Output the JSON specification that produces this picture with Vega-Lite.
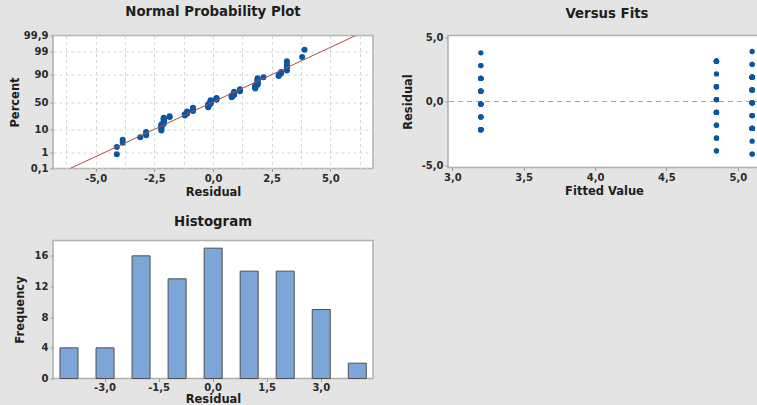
{
  "$schema": "https://vega.github.io/schema/vega-lite/v6.json",
  "background": "#e4e4e4",
  "padding": {"left": 8, "top": 3.5, "right": -2, "bottom": 2.5},
  "columns": 2,
  "bounds": "flush",
  "spacing": {"row": 72, "column": 75},
  "datasets": {
    "obs": [
      {"fit":5.1,"res":-4.1,"pct":0.75},{"fit":5.1,"res":-4.1,"pct":1.82},
      {"fit":4.85,"res":-3.85,"pct":2.89},{"fit":4.85,"res":-3.85,"pct":3.96},
      {"fit":5.1,"res":-3.1,"pct":5.03},
      {"fit":4.85,"res":-2.85,"pct":6.10},{"fit":4.85,"res":-2.85,"pct":7.17},{"fit":4.85,"res":-2.85,"pct":8.24},
      {"fit":3.2,"res":-2.2,"pct":9.31},{"fit":3.2,"res":-2.2,"pct":10.39},{"fit":3.2,"res":-2.2,"pct":11.46},{"fit":3.2,"res":-2.2,"pct":12.53},{"fit":3.2,"res":-2.2,"pct":13.60},{"fit":3.2,"res":-2.2,"pct":14.67},
      {"fit":5.1,"res":-2.1,"pct":15.74},{"fit":5.1,"res":-2.1,"pct":16.81},{"fit":5.1,"res":-2.1,"pct":17.88},{"fit":5.1,"res":-2.1,"pct":18.95},{"fit":5.1,"res":-2.1,"pct":20.02},{"fit":5.1,"res":-2.1,"pct":21.09},{"fit":5.1,"res":-2.1,"pct":22.16},{"fit":5.1,"res":-2.1,"pct":23.23},
      {"fit":4.85,"res":-1.85,"pct":24.30},{"fit":4.85,"res":-1.85,"pct":25.37},
      {"fit":3.2,"res":-1.2,"pct":26.45},{"fit":3.2,"res":-1.2,"pct":27.52},{"fit":3.2,"res":-1.2,"pct":28.59},
      {"fit":5.1,"res":-1.1,"pct":29.66},{"fit":5.1,"res":-1.1,"pct":30.73},{"fit":5.1,"res":-1.1,"pct":31.80},{"fit":5.1,"res":-1.1,"pct":32.87},
      {"fit":4.85,"res":-0.85,"pct":33.94},{"fit":4.85,"res":-0.85,"pct":35.01},{"fit":4.85,"res":-0.85,"pct":36.08},{"fit":4.85,"res":-0.85,"pct":37.15},{"fit":4.85,"res":-0.85,"pct":38.22},{"fit":4.85,"res":-0.85,"pct":39.29},
      {"fit":3.2,"res":-0.2,"pct":40.36},{"fit":3.2,"res":-0.2,"pct":41.43},{"fit":3.2,"res":-0.2,"pct":42.51},{"fit":3.2,"res":-0.2,"pct":43.58},{"fit":3.2,"res":-0.2,"pct":44.65},{"fit":3.2,"res":-0.2,"pct":45.72},
      {"fit":5.1,"res":-0.1,"pct":46.79},{"fit":5.1,"res":-0.1,"pct":47.86},{"fit":5.1,"res":-0.1,"pct":48.93},{"fit":5.1,"res":-0.1,"pct":50.00},{"fit":5.1,"res":-0.1,"pct":51.07},{"fit":5.1,"res":-0.1,"pct":52.14},{"fit":5.1,"res":-0.1,"pct":53.21},
      {"fit":4.85,"res":0.15,"pct":54.28},{"fit":4.85,"res":0.15,"pct":55.35},{"fit":4.85,"res":0.15,"pct":56.42},{"fit":4.85,"res":0.15,"pct":57.49},
      {"fit":3.2,"res":0.8,"pct":58.57},{"fit":3.2,"res":0.8,"pct":59.64},{"fit":3.2,"res":0.8,"pct":60.71},{"fit":3.2,"res":0.8,"pct":61.78},
      {"fit":5.1,"res":0.9,"pct":62.85},{"fit":5.1,"res":0.9,"pct":63.92},{"fit":5.1,"res":0.9,"pct":64.99},{"fit":5.1,"res":0.9,"pct":66.06},{"fit":5.1,"res":0.9,"pct":67.13},{"fit":5.1,"res":0.9,"pct":68.20},
      {"fit":4.85,"res":1.15,"pct":69.27},{"fit":4.85,"res":1.15,"pct":70.34},{"fit":4.85,"res":1.15,"pct":71.41},{"fit":4.85,"res":1.15,"pct":72.48},
      {"fit":3.2,"res":1.8,"pct":73.55},{"fit":3.2,"res":1.8,"pct":74.63},{"fit":3.2,"res":1.8,"pct":75.70},{"fit":3.2,"res":1.8,"pct":76.77},{"fit":3.2,"res":1.8,"pct":77.84},
      {"fit":5.1,"res":1.9,"pct":78.91},{"fit":5.1,"res":1.9,"pct":79.98},{"fit":5.1,"res":1.9,"pct":81.05},{"fit":5.1,"res":1.9,"pct":82.12},{"fit":5.1,"res":1.9,"pct":83.19},{"fit":5.1,"res":1.9,"pct":84.26},{"fit":5.1,"res":1.9,"pct":85.33},{"fit":5.1,"res":1.9,"pct":86.40},
      {"fit":4.85,"res":2.15,"pct":87.47},
      {"fit":3.2,"res":2.8,"pct":88.54},{"fit":3.2,"res":2.8,"pct":89.61},
      {"fit":5.1,"res":2.9,"pct":90.69},{"fit":5.1,"res":2.9,"pct":91.76},
      {"fit":4.85,"res":3.15,"pct":92.83},{"fit":4.85,"res":3.15,"pct":93.90},{"fit":4.85,"res":3.15,"pct":94.97},{"fit":4.85,"res":3.15,"pct":96.04},{"fit":4.85,"res":3.15,"pct":97.11},
      {"fit":3.2,"res":3.8,"pct":98.18},
      {"fit":5.1,"res":3.9,"pct":99.25}
    ],
    "fitline": [{"res": -6.09, "pct": 0.1}, {"res": 6.09, "pct": 99.9}]
  },
  "concat": [
    {
      "title": {"text": "Normal Probability Plot"},
      "width": 320,
      "height": 133,
      "encoding": {
        "x": {"field": "res", "type": "quantitative",
          "scale": {"domain": [-6.82, 6.82], "nice": false, "zero": false},
          "axis": {"title": "Residual", "values": [-6.25, -5, -3.75, -2.5, -1.25, 0, 1.25, 2.5, 3.75, 5, 6.25],
            "labelOverlap": false, "labelSeparation": -40,
            "grid": true, "gridDash": [3, 3], "gridColor": "#d6d6d6",
            "labelExpr": "abs(datum.value) % 2.5 > 0.01 ? ' ' : (datum.value < 0 ? '-' : '') + replace(format(abs(datum.value), '.1f'), '.', ',')",
            "tickOpacity": {"condition": {"test": "abs(datum.value) % 2.5 < 0.01", "value": 1}, "value": 0}}},
        "y": {"field": "z", "type": "quantitative",
          "scale": {"domain": [-3.0902, 3.0902], "nice": false, "zero": false},
          "axis": {"title": "Percent", "values": [-3.0902, -2.3263, -1.2816, 0, 1.2816, 2.3263, 3.0902],
            "labelOverlap": false, "labelSeparation": -40,
            "grid": true, "gridDash": [3, 3], "gridColor": "#d6d6d6",
            "labelExpr": "datum.value < -3 ? '0,1' : datum.value < -2 ? '1' : datum.value < -1 ? '10' : datum.value < 1 ? '50' : datum.value < 2 ? '90' : datum.value < 3 ? '99' : '99,9'"}}
      },
      "layer": [
        {
          "data": {"name": "obs"},
          "transform": [{"calculate": "quantileNormal(datum.pct / 100)", "as": "z"}],
          "mark": {"type": "point", "filled": true, "size": 36, "opacity": 1, "color": "#0b56a4"}
        },
        {
          "data": {"name": "fitline"},
          "transform": [{"calculate": "quantileNormal(datum.pct / 100)", "as": "z"}],
          "mark": {"type": "line", "color": "#b24a4a", "strokeWidth": 1, "clip": true}
        }
      ]
    },
    {
      "title": {"text": "Versus Fits", "dx": 3},
      "width": 312,
      "height": 132,
      "layer": [
        {
          "data": {"values": [{}]},
          "mark": {"type": "rule", "color": "#a3a3a3", "strokeDash": [5, 4], "strokeWidth": 1},
          "encoding": {"y": {"datum": 0, "type": "quantitative"}}
        },
        {
          "data": {"name": "obs"},
          "mark": {"type": "point", "filled": true, "size": 28, "opacity": 1, "color": "#0b56a4"},
          "encoding": {
            "x": {"field": "fit", "type": "quantitative",
              "scale": {"domain": [2.97, 5.155], "nice": false, "zero": false},
              "axis": {"title": "Fitted Value", "values": [3, 3.5, 4, 4.5, 5],
                "labelExpr": "(datum.value < 0 ? '-' : '') + replace(format(abs(datum.value), '.1f'), '.', ',')"}},
            "y": {"field": "res", "type": "quantitative",
              "scale": {"domain": [-5.15, 5.15], "nice": false, "zero": false},
              "axis": {"title": "Residual", "values": [-5, -2.5, 0, 2.5, 5], "titlePadding": 8,
                "labelExpr": "(datum.value < 0 ? '-' : '') + replace(format(abs(datum.value), '.1f'), '.', ',')"}}
          }
        }
      ]
    },
    {
      "title": {"text": "Histogram"},
      "width": 320,
      "height": 138,
      "data": {"name": "obs"},
      "mark": {"type": "bar", "fill": "#7ca6d8", "stroke": "#4f4f4f", "strokeWidth": 1, "binSpacing": 0},
      "encoding": {
        "x": {"field": "res", "type": "quantitative",
          "bin": {"step": 0.5, "extent": [-4.25, 4.25], "nice": false},
          "scale": {"domain": [-4.43, 4.45], "nice": false, "zero": false},
          "axis": {"title": "Residual", "values": [-3, -1.5, 0, 1.5, 3], "labelPadding": 1, "titlePadding": 1,
            "labelExpr": "(datum.value < 0 ? '-' : '') + replace(format(abs(datum.value), '.1f'), '.', ',')"}},
        "y": {"aggregate": "count", "type": "quantitative",
          "scale": {"domain": [0, 18], "nice": false},
          "axis": {"title": "Frequency", "values": [0, 4, 8, 12, 16], "titlePadding": 9}}
      }
    }
  ],
  "config": {
    "view": {"fill": "white", "stroke": "#b0b0b0", "strokeWidth": 1.5},
    "axis": {
      "domain": false,
      "grid": false,
      "labelFont": "DejaVu Sans", "labelFontSize": 10, "labelFontWeight": "bold", "labelColor": "#2a2a2a",
      "labelPadding": 2,
      "titleFont": "DejaVu Sans", "titleFontSize": 11.5, "titleFontWeight": "bold", "titleColor": "#1e1e1e",
      "tickColor": "#9a9a9a", "tickSize": 3,
      "titlePadding": 3
    },
    "title": {"font": "DejaVu Sans", "fontSize": 13.3, "fontWeight": "bold", "color": "#1e1e1e", "offset": 12}
  }
}
